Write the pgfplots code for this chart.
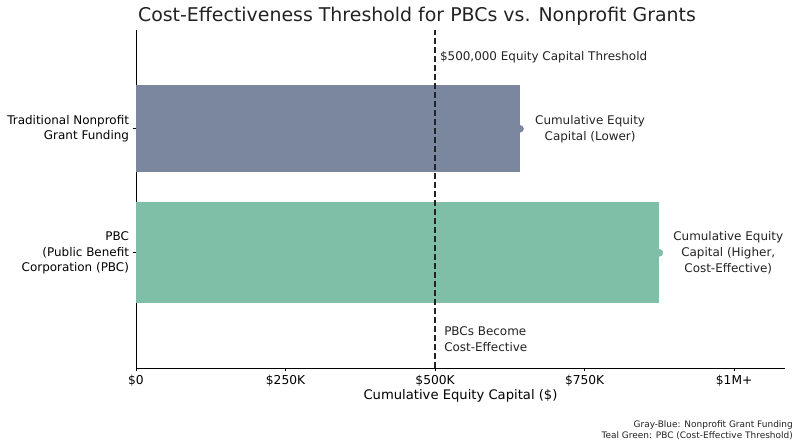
\documentclass[border=0pt]{standalone}
\usepackage{pgfplots}
\pgfplotsset{compat=1.18}
\usepackage{fontspec}
\setmainfont{DejaVu Sans}
\definecolor{grayblue}{HTML}{7A879F}
\definecolor{tealgreen}{HTML}{7FBFA8}
\definecolor{ink}{HTML}{222222}
\begin{document}
\begin{tikzpicture}
\useasboundingbox (0,0) rectangle (800bp,447bp);
\begin{axis}[
    at={(136bp,79bp)}, anchor=south west,
    scale only axis,
    width=649bp, height=338bp,
    xmin=0, xmax=1085000,
    ymin=-0.929, ymax=1.797,
    axis x line=bottom, axis y line=left,
    axis line style={-, line width=0.9bp, black},
    scaled x ticks=false,
    xtick={0,250000,500000,750000,1000000},
    xticklabels={\$0,\$250K,\$500K,\$750K,\$1M+},
    ytick={0,1},
    yticklabels={{PBC\\(Public Benefit\\Corporation (PBC)},{Traditional Nonprofit\\Grant Funding}},
    yticklabel style={align=right, font=\fontsize{12}{15.5}\selectfont},
    xticklabel style={font=\fontsize{12.3}{14}\selectfont},
    tick align=outside, tick style={black, line width=0.8bp},
    major tick length=3.5bp,
    xlabel={Cumulative Equity Capital (\$)},
    xlabel style={font=\fontsize{13.2}{15}\selectfont, yshift=3bp},
    clip=false,
]
\addplot[xbar, bar shift=0pt, bar width=0.7, fill=grayblue, draw=none] coordinates {(642000,1)};
\addplot[xbar, bar shift=0pt, bar width=0.815, fill=tealgreen, draw=none] coordinates {(875000,0)};
\addplot[only marks, mark=*, mark size=3.5bp, grayblue] coordinates {(642000,1)};
\addplot[only marks, mark=*, mark size=3.5bp, tealgreen] coordinates {(875000,0)};
\addplot[ink, line width=1.3bp, dash pattern=on 5.5bp off 3.5bp] coordinates {(500000,-0.929) (500000,1.797)};
\node[anchor=west, align=center, font=\fontsize{12}{16}\selectfont, ink, inner xsep=0pt] at (axis cs:667000,1) {Cumulative Equity\\Capital (Lower)};
\node[anchor=west, align=center, font=\fontsize{12}{16}\selectfont, ink, inner xsep=0pt] at (axis cs:898000,0) {Cumulative Equity\\Capital (Higher,\\Cost-Effective)};
\node[anchor=west, font=\fontsize{12}{16}\selectfont, ink, inner xsep=0pt] at (axis cs:508000,1.579) {\$500,000 Equity Capital Threshold};
\node[anchor=west, align=left, font=\fontsize{12}{16}\selectfont, ink, inner xsep=0pt] at (axis cs:515000,-0.695) {PBCs Become\\Cost-Effective};
\end{axis}
\node[font=\fontsize{19}{22}\selectfont, ink] at (417bp,431bp) {Cost-Effectiveness Threshold for PBCs vs. Nonprofit Grants};
\node[anchor=east, align=right, font=\fontsize{9}{11}\selectfont, ink, inner sep=0pt] at (793bp,17bp) {Gray-Blue: Nonprofit Grant Funding\\Teal Green: PBC (Cost-Effective Threshold)};
\end{tikzpicture}
\end{document}
